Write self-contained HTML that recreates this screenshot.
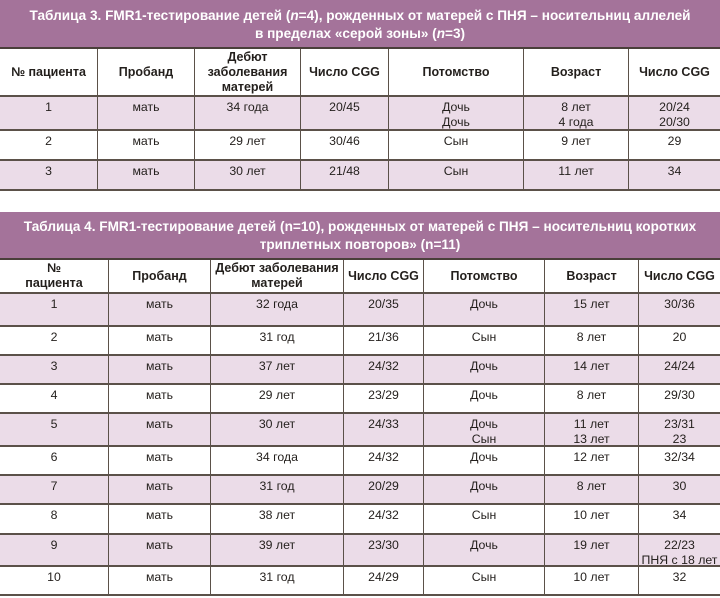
<!DOCTYPE html>
<html><head><meta charset="utf-8"><style>
*{box-sizing:border-box;margin:0;padding:0}
body{width:720px;height:598px;background:#fff;position:relative;font-family:"Liberation Sans",sans-serif;color:#231f1c;overflow:hidden}
.t{position:absolute;left:0;width:720px;background:#a4739a;color:#fff;font-weight:bold;font-size:13.6px;line-height:18px;text-align:center;display:flex;flex-direction:column;justify-content:center;border-bottom:2px solid #4a3f3a;padding-top:2px}
.r{position:absolute;left:0;width:720px;display:flex;border-bottom:2px solid #5b5149;font-size:12.3px;line-height:15px;text-align:center}
.r.a{background:#ebdce8}
.r>div{padding-top:3px;border-left:1.5px solid #5b5149;height:100%}
.r>div:first-child{border-left:none}
.h{font-weight:bold;font-size:12.5px}
.h>div{display:flex;flex-direction:column;justify-content:center;padding-top:0}
</style></head><body>
<div class="t" style="top:0;height:49px"><div>Таблица 3. FMR1-тестирование детей (<i>n</i>=4), рожденных от матерей с ПНЯ – носительниц аллелей</div><div>в пределах «серой зоны» (<i>n</i>=3)</div></div>
<div class="r h" style="top:49px;height:48px"><div style="width:97px">№ пациента</div><div style="width:97px">Пробанд</div><div style="width:106px">Дебют<br>заболевания<br>матерей</div><div style="width:88px">Число CGG</div><div style="width:135px">Потомство</div><div style="width:105px">Возраст</div><div style="width:92px">Число CGG</div></div>
<div class="r a" style="top:97px;height:34px"><div style="width:97px">1</div><div style="width:97px">мать</div><div style="width:106px">34 года</div><div style="width:88px">20/45</div><div style="width:135px">Дочь<br>Дочь</div><div style="width:105px">8 лет<br>4 года</div><div style="width:92px">20/24<br>20/30</div></div>
<div class="r" style="top:131px;height:30px"><div style="width:97px">2</div><div style="width:97px">мать</div><div style="width:106px">29 лет</div><div style="width:88px">30/46</div><div style="width:135px">Сын</div><div style="width:105px">9 лет</div><div style="width:92px">29</div></div>
<div class="r a" style="top:161px;height:30px"><div style="width:97px">3</div><div style="width:97px">мать</div><div style="width:106px">30 лет</div><div style="width:88px">21/48</div><div style="width:135px">Сын</div><div style="width:105px">11 лет</div><div style="width:92px">34</div></div>

<div class="t" style="top:212px;height:48px"><div>Таблица 4. FMR1-тестирование детей (n=10), рожденных от матерей с ПНЯ – носительниц коротких</div><div>триплетных повторов» (n=11)</div></div>
<div class="r h" style="top:260px;height:34px"><div style="width:108px">№<br>пациента</div><div style="width:102px">Пробанд</div><div style="width:133px">Дебют заболевания<br>матерей</div><div style="width:80px">Число CGG</div><div style="width:121px">Потомство</div><div style="width:94px">Возраст</div><div style="width:82px">Число CGG</div></div>
<div class="r a" style="top:294px;height:33px"><div style="width:108px">1</div><div style="width:102px">мать</div><div style="width:133px">32 года</div><div style="width:80px">20/35</div><div style="width:121px">Дочь</div><div style="width:94px">15 лет</div><div style="width:82px">30/36</div></div>
<div class="r" style="top:327px;height:29px"><div style="width:108px">2</div><div style="width:102px">мать</div><div style="width:133px">31 год</div><div style="width:80px">21/36</div><div style="width:121px">Сын</div><div style="width:94px">8 лет</div><div style="width:82px">20</div></div>
<div class="r a" style="top:356px;height:29px"><div style="width:108px">3</div><div style="width:102px">мать</div><div style="width:133px">37 лет</div><div style="width:80px">24/32</div><div style="width:121px">Дочь</div><div style="width:94px">14 лет</div><div style="width:82px">24/24</div></div>
<div class="r" style="top:385px;height:29px"><div style="width:108px">4</div><div style="width:102px">мать</div><div style="width:133px">29 лет</div><div style="width:80px">23/29</div><div style="width:121px">Дочь</div><div style="width:94px">8 лет</div><div style="width:82px">29/30</div></div>
<div class="r a" style="top:414px;height:33px"><div style="width:108px">5</div><div style="width:102px">мать</div><div style="width:133px">30 лет</div><div style="width:80px">24/33</div><div style="width:121px">Дочь<br>Сын</div><div style="width:94px">11 лет<br>13 лет</div><div style="width:82px">23/31<br>23</div></div>
<div class="r" style="top:447px;height:29px"><div style="width:108px">6</div><div style="width:102px">мать</div><div style="width:133px">34 года</div><div style="width:80px">24/32</div><div style="width:121px">Дочь</div><div style="width:94px">12 лет</div><div style="width:82px">32/34</div></div>
<div class="r a" style="top:476px;height:29px"><div style="width:108px">7</div><div style="width:102px">мать</div><div style="width:133px">31 год</div><div style="width:80px">20/29</div><div style="width:121px">Дочь</div><div style="width:94px">8 лет</div><div style="width:82px">30</div></div>
<div class="r" style="top:505px;height:30px"><div style="width:108px">8</div><div style="width:102px">мать</div><div style="width:133px">38 лет</div><div style="width:80px">24/32</div><div style="width:121px">Сын</div><div style="width:94px">10 лет</div><div style="width:82px">34</div></div>
<div class="r a" style="top:535px;height:32px"><div style="width:108px">9</div><div style="width:102px">мать</div><div style="width:133px">39 лет</div><div style="width:80px">23/30</div><div style="width:121px">Дочь</div><div style="width:94px">19 лет</div><div style="width:82px">22/23<br>ПНЯ с 18 лет</div></div>
<div class="r" style="top:567px;height:29px"><div style="width:108px">10</div><div style="width:102px">мать</div><div style="width:133px">31 год</div><div style="width:80px">24/29</div><div style="width:121px">Сын</div><div style="width:94px">10 лет</div><div style="width:82px">32</div></div>
</body></html>
